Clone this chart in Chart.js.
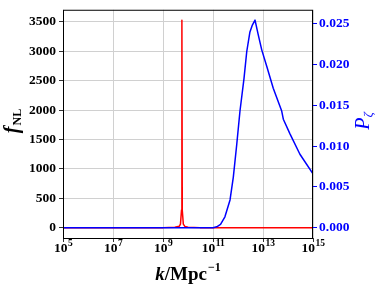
<!DOCTYPE html>
<html>
<head>
<meta charset="utf-8">
<script src="https://cdn.jsdelivr.net/npm/chart.js@4"></script>
<style>
  html, body { margin: 0; padding: 0; background: #fff; }
  #chart { display: block; }
</style>
</head>
<body>
<canvas id="chart" width="382" height="287"></canvas>
<script>
// f_NL (red, left axis): a narrow spike near k ~ 5.7e9
const kRed = [1e5, 1e8, 1e9, 3e9, 4.5e9, 5.0e9, 5.5e9, 5.7e9, 5.9e9, 6.5e9, 7.5e9, 1e10, 3e10, 1e12, 1e15];
const fNL = [0, 0, 0, 5, 25, 60, 300, 3530, 300, 60, 20, 5, 0, 0, 0];

// P_zeta (blue, right axis)
const kBlue = [1e5, 1e10, 1e11, 1.41e11, 2e11, 3e11, 4.8e11, 6.5e11, 8.9e11, 1.2e12, 1.74e12, 2.24e12,
  3.0e12, 3.7e12, 4.8e12, 6.5e12, 8.9e12, 1.41e13, 2.57e13, 5.6e13, 6.5e13, 1.2e14, 3.0e14, 1e15];
const pZeta = [0, 0, 0, 0.0001, 0.0004, 0.00133, 0.0034, 0.0062, 0.0102, 0.0143, 0.0183, 0.0216,
  0.0240, 0.0248, 0.02545, 0.0236, 0.0218, 0.0198, 0.0171, 0.0143, 0.0133, 0.0115, 0.0090, 0.0066];

// tick labels
const xTickExponents = [5, 7, 9, 11, 13, 15];
const leftTicks = [0, 500, 1000, 1500, 2000, 2500, 3000, 3500];
const rightTicks = [0, 0.005, 0.010, 0.015, 0.020, 0.025];

const SERIF = "'Liberation Serif', 'DejaVu Serif', serif";

function pairs(xs, ys) {
  return xs.map((x, i) => ({ x, y: ys[i] }));
}

// draws the x tick labels (10^n), the axis titles and the frame
const labelsPlugin = {
  id: "labels",
  afterDraw(chart) {
    const { ctx, chartArea, scales } = chart;
    ctx.save();

    // frame
    ctx.strokeStyle = "#000";
    ctx.lineWidth = 1;
    ctx.strokeRect(chartArea.left + 0.5, chartArea.top + 0.5,
      chartArea.right - chartArea.left - 1, chartArea.bottom - chartArea.top);

    // x tick labels
    ctx.fillStyle = "#000";
    ctx.textBaseline = "alphabetic";
    ctx.textAlign = "left";
    xTickExponents.forEach((e) => {
      const px = scales.x.getPixelForValue(10 ** e);
      ctx.font = "bold 13.5px " + SERIF;
      const w1 = ctx.measureText("10").width;
      ctx.font = "bold 9.5px " + SERIF;
      const w2 = ctx.measureText(String(e)).width;
      const x0 = px - (w1 + w2) / 2;
      ctx.font = "bold 13.5px " + SERIF;
      ctx.fillText("10", x0, 252);
      ctx.font = "bold 9.5px " + SERIF;
      ctx.fillText(String(e), x0 + w1 + 0.5, 246);
    });

    // x axis title: k/Mpc^-1
    ctx.font = "bold italic 19px " + SERIF;
    const wk = ctx.measureText("k").width;
    ctx.font = "bold 19px " + SERIF;
    const wm = ctx.measureText("/Mpc").width;
    ctx.font = "bold 12px " + SERIF;
    const we = ctx.measureText("\u22121").width;
    let x = 188 - (wk + wm + we + 1) / 2;
    ctx.font = "bold italic 19px " + SERIF;
    ctx.fillText("k", x, 280);
    x += wk;
    ctx.font = "bold 19px " + SERIF;
    ctx.fillText("/Mpc", x, 280);
    x += wm + 1;
    ctx.font = "bold 12px " + SERIF;
    ctx.fillText("\u22121", x, 271);

    // left title: f_NL
    ctx.save();
    ctx.translate(18, 121);
    ctx.rotate(-Math.PI / 2);
    ctx.font = "bold italic 20px " + SERIF;
    const wf = ctx.measureText("f").width;
    ctx.font = "bold 12px " + SERIF;
    const wn = ctx.measureText("NL").width;
    let t = -(wf + wn + 1) / 2;
    ctx.font = "bold italic 20px " + SERIF;
    ctx.fillText("f", t, 0);
    ctx.font = "bold 12px " + SERIF;
    ctx.fillText("NL", t + wf + 1, 3);
    ctx.restore();

    // right title: P_zeta
    ctx.save();
    ctx.translate(369, 121);
    ctx.rotate(-Math.PI / 2);
    ctx.fillStyle = "#0000ff";
    ctx.font = "italic 20px " + SERIF;
    const wp = ctx.measureText("P").width;
    ctx.font = "italic 13px " + SERIF;
    const wz = ctx.measureText("\u03b6").width;
    t = -(wp + wz) / 2;
    ctx.font = "italic 20px " + SERIF;
    ctx.fillText("P", t, 0);
    ctx.font = "italic 13px " + SERIF;
    ctx.fillText("\u03b6", t + wp, 3);
    ctx.restore();

    ctx.restore();
  },
};

new Chart(document.getElementById("chart"), {
  type: "line",
  data: {
    datasets: [
      {
        label: "P_zeta",
        data: pairs(kBlue, pZeta),
        yAxisID: "y2",
        borderColor: "#0000ff",
        borderWidth: 1.5,
        borderJoinStyle: "round",
        pointRadius: 0,
        tension: 0,
        order: 0,
      },
      {
        label: "f_NL",
        data: pairs(kRed, fNL),
        yAxisID: "y",
        borderColor: "#ff0000",
        borderWidth: 1.5,
        borderJoinStyle: "round",
        pointRadius: 0,
        tension: 0,
        order: 1,
      },
    ],
  },
  options: {
    responsive: false,
    animation: false,
    devicePixelRatio: 1,
    layout: { padding: { top: 7, left: 0, right: 0, bottom: 0 } },
    plugins: { legend: { display: false }, tooltip: { enabled: false } },
    scales: {
      x: {
        type: "logarithmic",
        position: "bottom",
        min: 1e5,
        max: 1e15,
        afterBuildTicks: (s) => {
          s.ticks = xTickExponents.map((e) => ({ value: 10 ** e }));
        },
        afterFit: (s) => {
          s.height = 49;
        },
        ticks: { display: false },
        grid: { color: "#d0d0d0", lineWidth: 1, tickLength: 4, tickColor: "#333" },
        border: { display: false },
      },
      y: {
        type: "linear",
        position: "left",
        min: -176.5,
        max: 3706.5,
        afterBuildTicks: (s) => {
          s.ticks = leftTicks.map((v) => ({ value: v }));
        },
        afterFit: (s) => {
          s.width = 63;
        },
        ticks: {
          color: "#000",
          padding: 3,
          font: { family: SERIF, size: 13.5, weight: "bold", lineHeight: 1 },
          callback: (v) => String(v),
        },
        grid: { color: "#d0d0d0", lineWidth: 1, tickLength: 4, tickColor: "#333" },
        border: { display: false },
      },
      y2: {
        type: "linear",
        position: "right",
        min: -0.00127,
        max: 0.02672,
        afterBuildTicks: (s) => {
          s.ticks = rightTicks.map((v) => ({ value: v }));
        },
        afterFit: (s) => {
          s.width = 69;
        },
        ticks: {
          color: "#0000ff",
          padding: 2,
          font: { family: SERIF, size: 13.5, weight: "bold", lineHeight: 1 },
          callback: (v) => v.toFixed(3),
        },
        grid: { drawOnChartArea: false, tickLength: 4, tickColor: "#0000ff" },
        border: { display: false },
      },
    },
  },
  plugins: [labelsPlugin],
});
</script>
</body>
</html>
